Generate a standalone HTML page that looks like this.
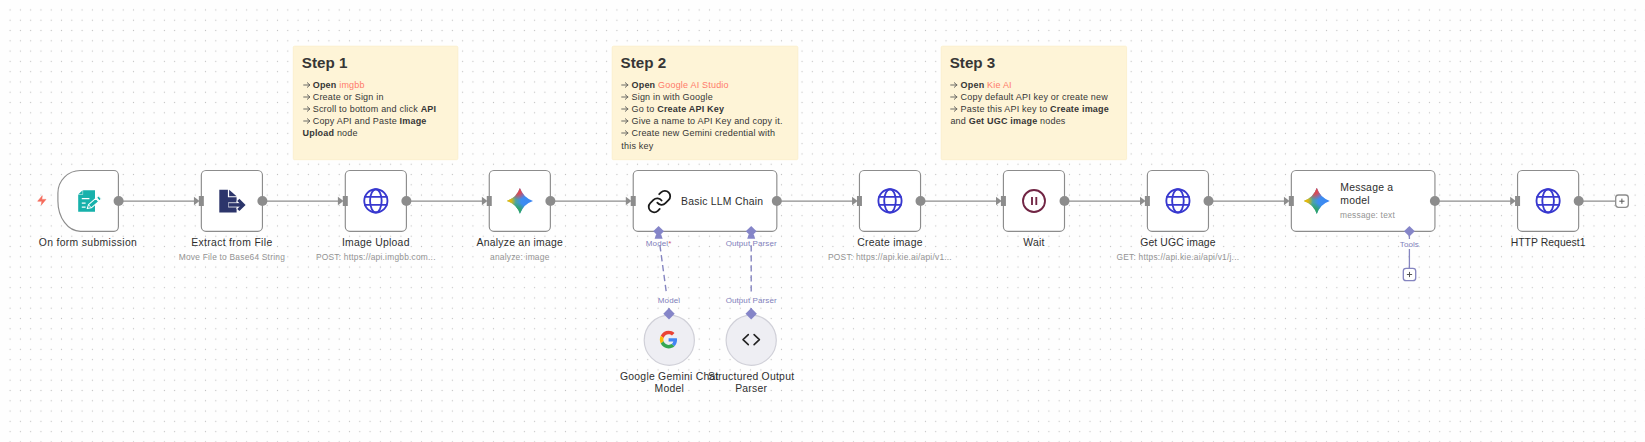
<!DOCTYPE html>
<html><head><meta charset="utf-8">
<style>
html,body{margin:0;padding:0;}
body{width:1645px;height:442px;overflow:hidden;background:#fefefe;position:relative;font-family:"Liberation Sans",sans-serif;}
svg.bg{position:absolute;left:0;top:0;}
.t{position:absolute;white-space:nowrap;}
.lbl{position:absolute;width:200px;text-align:center;font-size:10.4px;line-height:13px;letter-spacing:0.25px;color:#2e2e2e;white-space:nowrap;}
.sub{position:absolute;width:200px;text-align:center;font-size:8.4px;line-height:10px;letter-spacing:0.22px;color:#939393;white-space:nowrap;}
.stk{position:absolute;color:#363636;}
.stk h{display:block;position:absolute;font-weight:bold;font-size:15.2px;line-height:18px;white-space:nowrap;}
.stk .b{position:absolute;font-size:9px;line-height:12px;letter-spacing:0.2px;white-space:nowrap;}
.stk b{font-weight:bold;}
.ar{vertical-align:-0.3px;}
.stk .r{color:#ff7a6a;}
.pl{position:absolute;font-size:8px;line-height:10px;letter-spacing:0.1px;color:#7f7fbb;white-space:nowrap;text-align:center;width:100px;}
</style></head>
<body>
<svg class="bg" width="1645" height="442" viewBox="0 0 1645 442">
<defs>
<pattern id="dots" patternUnits="userSpaceOnUse" x="4.96" y="4.81" width="10.285" height="10.285">
<circle cx="5.14" cy="5.14" r="0.62" fill="#c2c2c2"/>
</pattern>
</defs>
<rect x="2" y="2" width="1643" height="440" fill="url(#dots)"/>

<!-- sticky notes -->
<rect x="293.3" y="46.2" width="164.5" height="113.5" rx="1.2" fill="#fef4d7" stroke="#faedc8" stroke-width="0.8"/>
<rect x="612.2" y="46.2" width="185.6" height="113.5" rx="1.2" fill="#fef4d7" stroke="#faedc8" stroke-width="0.8"/>
<rect x="941.2" y="46.2" width="185.4" height="113.5" rx="1.2" fill="#fef4d7" stroke="#faedc8" stroke-width="0.8"/>

<!-- main edges -->
<g stroke="#8c8c8c" stroke-width="1.35" fill="none">
<line x1="118.5" y1="201.1" x2="196" y2="201.1"/>
<line x1="262.4" y1="201.1" x2="340" y2="201.1"/>
<line x1="406.4" y1="201.1" x2="484" y2="201.1"/>
<line x1="550.4" y1="201.1" x2="628" y2="201.1"/>
<line x1="776.8" y1="201.1" x2="854.5" y2="201.1"/>
<line x1="920.5" y1="201.1" x2="998.5" y2="201.1"/>
<line x1="1064.5" y1="201.1" x2="1142.5" y2="201.1"/>
<line x1="1208.5" y1="201.1" x2="1286.5" y2="201.1"/>
<line x1="1434.9" y1="201.1" x2="1512.5" y2="201.1"/>
<line x1="1578.7" y1="201.1" x2="1615.5" y2="201.1"/>
</g>
<!-- config edges -->
<g stroke="#8585c0" stroke-width="1.4" fill="none" stroke-dasharray="6.3 3.7">
<line x1="659.9" y1="245.2" x2="666.4" y2="293"/>
<line x1="751.2" y1="245.2" x2="751.2" y2="292"/>
</g>
<line x1="1409.4" y1="249" x2="1409.4" y2="268" stroke="#8585c0" stroke-width="1.3"/><line x1="1409.4" y1="235" x2="1409.4" y2="239" stroke="#8585c0" stroke-width="1.3"/>

<!-- nodes -->
<g fill="#ffffff" stroke="#8c8c8c" stroke-width="1.15">
<path d="M80.4,170.5 H113.9 A4.5,4.5 0 0 1 118.4,175 V226.8 A4.5,4.5 0 0 1 113.9,231.3 H80.4 A22.5,30.4 0 0 1 57.9,201 V193 A22.5,22.5 0 0 1 80.4,170.5 Z" />
<rect x="201.34" y="170.5" width="61.1" height="60.8" rx="4.6"/>
<rect x="345.30" y="170.5" width="61.1" height="60.8" rx="4.6"/>
<rect x="489.27" y="170.5" width="61.1" height="60.8" rx="4.6"/>
<rect x="633.23" y="170.5" width="143.6" height="60.8" rx="4.6"/>
<rect x="859.45" y="170.5" width="61.1" height="60.8" rx="4.6"/>
<rect x="1003.41" y="170.5" width="61.1" height="60.8" rx="4.6"/>
<rect x="1147.38" y="170.5" width="61.1" height="60.8" rx="4.6"/>
<rect x="1291.34" y="170.5" width="143.6" height="60.8" rx="4.6"/>
<rect x="1517.56" y="170.5" width="61.1" height="60.8" rx="4.6"/>
</g>
<g fill="#eeeef3" stroke="#d0d0d8" stroke-width="1.2">
<circle cx="669.3" cy="340.2" r="25.1"/>
<circle cx="751.2" cy="340.2" r="25.1"/>
</g>

<!-- output handles -->
<g fill="#8c8c8c">
<circle cx="118.6" cy="201" r="5"/>
<circle cx="262.4" cy="201" r="5"/>
<circle cx="406.4" cy="201" r="5"/>
<circle cx="550.4" cy="201" r="5"/>
<circle cx="776.8" cy="201" r="5"/>
<circle cx="920.5" cy="201" r="5"/>
<circle cx="1064.5" cy="201" r="5"/>
<circle cx="1208.5" cy="201" r="5"/>
<circle cx="1434.9" cy="201" r="5"/>
<circle cx="1578.7" cy="201" r="5"/>
</g>
<!-- input handles -->
<g fill="#8c8c8c" id="inh">
<g transform="translate(201.34,0)"><rect x="-2.5" y="196" width="5" height="10"/><path d="M-7.4,196.8 L-1.8,201 L-7.4,205.2 Z"/></g>
<g transform="translate(345.30,0)"><rect x="-2.5" y="196" width="5" height="10"/><path d="M-7.4,196.8 L-1.8,201 L-7.4,205.2 Z"/></g>
<g transform="translate(489.27,0)"><rect x="-2.5" y="196" width="5" height="10"/><path d="M-7.4,196.8 L-1.8,201 L-7.4,205.2 Z"/></g>
<g transform="translate(633.23,0)"><rect x="-2.5" y="196" width="5" height="10"/><path d="M-7.4,196.8 L-1.8,201 L-7.4,205.2 Z"/></g>
<g transform="translate(859.45,0)"><rect x="-2.5" y="196" width="5" height="10"/><path d="M-7.4,196.8 L-1.8,201 L-7.4,205.2 Z"/></g>
<g transform="translate(1003.41,0)"><rect x="-2.5" y="196" width="5" height="10"/><path d="M-7.4,196.8 L-1.8,201 L-7.4,205.2 Z"/></g>
<g transform="translate(1147.38,0)"><rect x="-2.5" y="196" width="5" height="10"/><path d="M-7.4,196.8 L-1.8,201 L-7.4,205.2 Z"/></g>
<g transform="translate(1291.34,0)"><rect x="-2.5" y="196" width="5" height="10"/><path d="M-7.4,196.8 L-1.8,201 L-7.4,205.2 Z"/></g>
<g transform="translate(1517.56,0)"><rect x="-2.5" y="196" width="5" height="10"/><path d="M-7.4,196.8 L-1.8,201 L-7.4,205.2 Z"/></g>
</g>
<!-- config handles (diamonds) -->
<g fill="#8585c8">
<g transform="translate(658.6,231.3)"><path d="M0,-5.3 L5.4,0 L0,5.3 L-5.4,0 Z"/><path d="M-2.5,3 H2.5 L4,7.5 H-4 Z"/></g>
<g transform="translate(751.2,231.3)"><path d="M0,-5.3 L5.4,0 L0,5.3 L-5.4,0 Z"/><path d="M-2.5,3 H2.5 L4,7.5 H-4 Z"/></g>
<g transform="translate(1409.4,231.3)"><path d="M0,-5.3 L5.4,0 L0,5.3 L-5.4,0 Z"/></g>
<path d="M669,308 V313.5" stroke="#8585c8" stroke-width="1.3"/>
<path d="M751.2,308 V313.5" stroke="#8585c8" stroke-width="1.3"/>
<g transform="translate(669,313.8)"><path d="M0,-5.7 L5.7,0 L0,5.7 L-5.7,0 Z"/></g>
<g transform="translate(751.2,313.8)"><path d="M0,-5.7 L5.7,0 L0,5.7 L-5.7,0 Z"/></g>
</g>
<!-- plus boxes -->
<rect x="1615.7" y="195" width="12.6" height="12.3" rx="2.8" fill="#fff" stroke="#8c8c8c" stroke-width="1.3"/>
<path d="M1619.3,201.2 H1624.5 M1621.9,198.6 V203.8" stroke="#555" stroke-width="1"/>
<rect x="1403.3" y="268.3" width="12.4" height="12.4" rx="2.8" fill="#fff" stroke="#8585c0" stroke-width="1.3"/>
<path d="M1406.9,274.5 H1412.1 M1409.5,271.9 V277.1" stroke="#555" stroke-width="1"/>

<!-- ICONS -->
<!-- bolt -->
<path transform="translate(36.3,194.8) scale(0.46)" d="M13,2 L3,14 H12 L11,22 L21,10 H12 Z" fill="#f56b5b" stroke="#f56b5b" stroke-width="1.2" stroke-linejoin="round"/>
<!-- form icon -->
<g transform="translate(72,185)">
<path d="M11.1,5.2 H23 V26.8 H6.2 V9.4 H11.1 Z" fill="#17b1ab"/>
<path d="M6.6,8.9 L10.6,5.2 V8.9 Z" fill="#17b1ab"/>
<path d="M9.8,13.7 H17.4 M9.8,18 H13.6 M9.8,22 H13.6" stroke="#fff" stroke-width="1.25"/>
<g transform="translate(15.2,23.6) rotate(-41)">
<path d="M0,0 L3.6,-2.1 H13.2 V2.1 H3.6 Z" fill="#17b1ab" stroke="#fff" stroke-width="1.05" stroke-linejoin="round"/>
<path d="M14.2,-2.1 H17 V2.1 H14.2 Z" fill="#17b1ab" stroke="#fff" stroke-width="1.05" stroke-linejoin="round"/>
<path d="M3.6,-2.1 V2.1" stroke="#fff" stroke-width="0.8"/>
</g>
</g>
<!-- extract from file icon -->
<g transform="translate(215,185)" fill="#2c356b">
<path d="M4.3,4.7 H12.9 V12.3 H21.6 V27.5 H4.3 Z"/>
<path d="M14.1,4.7 L21.6,11.3 H14.1 Z"/>
<path d="M13.2,19.9 H26.6" stroke="#fff" stroke-width="5.0"/>
<path d="M23.0,14.5 L28.4,19.9 L23.0,25.3" stroke="#fff" stroke-width="4.8" fill="none"/>
<path d="M13.6,19.9 H27.2" stroke="#2c356b" stroke-width="3.5"/>
<path d="M23.3,14.8 L28.4,19.9 L23.3,25" stroke="#2c356b" stroke-width="3.1" fill="none"/>
</g>
<!-- globes -->
<g id="globe" fill="none" stroke="#3838cf" stroke-width="1.85">
<g transform="translate(375.85,200.85)"><circle r="11.6"/><ellipse rx="5.8" ry="11.6"/><path d="M-11.6,-4 H11.6 M-11.6,4 H11.6"/></g>
<g transform="translate(890.0,200.85)"><circle r="11.6"/><ellipse rx="5.8" ry="11.6"/><path d="M-11.6,-4 H11.6 M-11.6,4 H11.6"/></g>
<g transform="translate(1177.93,200.85)"><circle r="11.6"/><ellipse rx="5.8" ry="11.6"/><path d="M-11.6,-4 H11.6 M-11.6,4 H11.6"/></g>
<g transform="translate(1548.11,200.85)"><circle r="11.6"/><ellipse rx="5.8" ry="11.6"/><path d="M-11.6,-4 H11.6 M-11.6,4 H11.6"/></g>
</g>
<!-- link icon -->
<g transform="translate(646.5,188.6) scale(1.08)" fill="none" stroke="#1a1a1a" stroke-width="1.65" stroke-linecap="round" stroke-linejoin="round">
<path d="M10 13a5 5 0 0 0 7.54.54l3-3a5 5 0 0 0-7.07-7.07l-1.72 1.71"/>
<path d="M14 11a5 5 0 0 0-7.54-.54l-3 3a5 5 0 0 0 7.07 7.07l1.71-1.71"/>
</g>
<!-- wait icon -->
<g fill="none" stroke="#712544" stroke-width="1.85">
<circle cx="1034" cy="201" r="11"/>
<path d="M1032,197 V205 M1036.3,197 V205"/>
</g>
<!-- google G -->
<g transform="translate(659.8,330.8) scale(0.3667)">
<path fill="#EA4335" d="M24 9.5c3.54 0 6.71 1.22 9.21 3.6l6.85-6.85C35.9 2.38 30.47 0 24 0 14.62 0 6.51 5.38 2.56 13.22l7.98 6.19C12.43 13.72 17.74 9.5 24 9.5z"/>
<path fill="#4285F4" d="M46.98 24.55c0-1.57-.15-3.09-.38-4.55H24v9.02h12.94c-.58 2.960-2.26 5.48-4.78 7.18l7.730 6c4.51-4.18 7.09-10.36 7.09-17.65z"/>
<path fill="#FBBC05" d="M10.53 28.59c-.48-1.45-.76-2.99-.76-4.59s.27-3.14.76-4.59l-7.98-6.19C.92 16.46 0 20.12 0 24c0 3.88.92 7.54 2.56 10.78l7.97-6.19z"/>
<path fill="#34A853" d="M24 48c6.48 0 11.930-2.13 15.89-5.81l-7.73-6c-2.15 1.45-4.92 2.3-8.16 2.3-6.26 0-11.57-4.22-13.47-9.91l-7.98 6.19C6.51 42.62 14.62 48 24 48z"/>
</g>
<!-- code icon -->
<path d="M748.3,334.6 L743,339.6 L748.3,344.6 M754.1,334.6 L759.4,339.6 L754.1,344.6" fill="none" stroke="#222" stroke-width="1.6" stroke-linejoin="round" stroke-linecap="round"/>
</svg>

<!-- gemini stars -->
<div style="position:absolute;left:506.80px;top:188.00px;width:26.2px;height:25.8px;clip-path:path('M13.10,25.80 A20.96,20.96 0 0 0 0,12.90 A20.96,20.96 0 0 0 13.10,0 A20.96,20.96 0 0 0 26.20,12.90 A20.96,20.96 0 0 0 13.10,25.80 Z');background:radial-gradient(ellipse 38% 42% at 42% 4%, rgba(236,64,70,1) 0%, rgba(236,64,70,0.85) 45%, rgba(236,64,70,0) 100%), radial-gradient(ellipse 34% 30% at 0% 50%, rgba(246,184,0,1) 0%, rgba(246,184,0,0.85) 45%, rgba(246,184,0,0) 100%), radial-gradient(ellipse 40% 42% at 40% 98%, rgba(44,166,90,1) 0%, rgba(44,166,90,0.85) 45%, rgba(44,166,90,0) 100%), linear-gradient(90deg, #7ab84a 0%, #4aa3a8 35%, #3d8ef0 55%, #3c86f4 100%);"></div>
<div style="position:absolute;left:1303.85px;top:187.80px;width:25.9px;height:26.2px;clip-path:path('M12.95,26.20 A20.72,20.72 0 0 0 0,13.10 A20.72,20.72 0 0 0 12.95,0 A20.72,20.72 0 0 0 25.90,13.10 A20.72,20.72 0 0 0 12.95,26.20 Z');background:radial-gradient(ellipse 38% 42% at 42% 4%, rgba(236,64,70,1) 0%, rgba(236,64,70,0.85) 45%, rgba(236,64,70,0) 100%), radial-gradient(ellipse 34% 30% at 0% 50%, rgba(246,184,0,1) 0%, rgba(246,184,0,0.85) 45%, rgba(246,184,0,0) 100%), radial-gradient(ellipse 40% 42% at 40% 98%, rgba(44,166,90,1) 0%, rgba(44,166,90,0.85) 45%, rgba(44,166,90,0) 100%), linear-gradient(90deg, #7ab84a 0%, #4aa3a8 35%, #3d8ef0 55%, #3c86f4 100%);"></div>
<!-- sticky text -->
<div class="stk">
<h style="left:301.8px;top:53.7px;">Step 1</h>
<div class="b" style="left:302.5px;top:78.88px;"><svg class="ar" width="7.5" height="6" viewBox="0 0 7.5 6"><path d="M0.7,3 H6.9 M4.3,0.7 L6.9,3 L4.3,5.3" fill="none" stroke="#505050" stroke-width="0.85" stroke-linejoin="round" stroke-linecap="round"/></svg> <b>Open</b> <span class="r">imgbb</span></div>
<div class="b" style="left:302.5px;top:90.85px;"><svg class="ar" width="7.5" height="6" viewBox="0 0 7.5 6"><path d="M0.7,3 H6.9 M4.3,0.7 L6.9,3 L4.3,5.3" fill="none" stroke="#505050" stroke-width="0.85" stroke-linejoin="round" stroke-linecap="round"/></svg> Create or Sign in</div>
<div class="b" style="left:302.5px;top:102.82px;"><svg class="ar" width="7.5" height="6" viewBox="0 0 7.5 6"><path d="M0.7,3 H6.9 M4.3,0.7 L6.9,3 L4.3,5.3" fill="none" stroke="#505050" stroke-width="0.85" stroke-linejoin="round" stroke-linecap="round"/></svg> Scroll to bottom and click <b>API</b></div>
<div class="b" style="left:302.5px;top:114.79px;"><svg class="ar" width="7.5" height="6" viewBox="0 0 7.5 6"><path d="M0.7,3 H6.9 M4.3,0.7 L6.9,3 L4.3,5.3" fill="none" stroke="#505050" stroke-width="0.85" stroke-linejoin="round" stroke-linecap="round"/></svg> Copy API and Paste <b>Image</b></div>
<div class="b" style="left:302.5px;top:126.76px;"><b>Upload</b> node</div>
<h style="left:620.6px;top:53.7px;">Step 2</h>
<div class="b" style="left:621.3px;top:78.98px;"><svg class="ar" width="7.5" height="6" viewBox="0 0 7.5 6"><path d="M0.7,3 H6.9 M4.3,0.7 L6.9,3 L4.3,5.3" fill="none" stroke="#505050" stroke-width="0.85" stroke-linejoin="round" stroke-linecap="round"/></svg> <b>Open</b> <span class="r">Google AI Studio</span></div>
<div class="b" style="left:621.3px;top:90.95px;"><svg class="ar" width="7.5" height="6" viewBox="0 0 7.5 6"><path d="M0.7,3 H6.9 M4.3,0.7 L6.9,3 L4.3,5.3" fill="none" stroke="#505050" stroke-width="0.85" stroke-linejoin="round" stroke-linecap="round"/></svg> Sign in with Google</div>
<div class="b" style="left:621.3px;top:102.92px;"><svg class="ar" width="7.5" height="6" viewBox="0 0 7.5 6"><path d="M0.7,3 H6.9 M4.3,0.7 L6.9,3 L4.3,5.3" fill="none" stroke="#505050" stroke-width="0.85" stroke-linejoin="round" stroke-linecap="round"/></svg> Go to <b>Create API Key</b></div>
<div class="b" style="left:621.3px;top:114.89px;"><svg class="ar" width="7.5" height="6" viewBox="0 0 7.5 6"><path d="M0.7,3 H6.9 M4.3,0.7 L6.9,3 L4.3,5.3" fill="none" stroke="#505050" stroke-width="0.85" stroke-linejoin="round" stroke-linecap="round"/></svg> Give a name to API Key and copy it.</div>
<div class="b" style="left:621.3px;top:126.86px;"><svg class="ar" width="7.5" height="6" viewBox="0 0 7.5 6"><path d="M0.7,3 H6.9 M4.3,0.7 L6.9,3 L4.3,5.3" fill="none" stroke="#505050" stroke-width="0.85" stroke-linejoin="round" stroke-linecap="round"/></svg> Create new Gemini credential with</div>
<div class="b" style="left:621.3px;top:139.98px;">this key</div>
<h style="left:949.7px;top:53.7px;">Step 3</h>
<div class="b" style="left:950.4px;top:78.98px;"><svg class="ar" width="7.5" height="6" viewBox="0 0 7.5 6"><path d="M0.7,3 H6.9 M4.3,0.7 L6.9,3 L4.3,5.3" fill="none" stroke="#505050" stroke-width="0.85" stroke-linejoin="round" stroke-linecap="round"/></svg> <b>Open</b> <span class="r">Kie AI</span></div>
<div class="b" style="left:950.4px;top:90.95px;"><svg class="ar" width="7.5" height="6" viewBox="0 0 7.5 6"><path d="M0.7,3 H6.9 M4.3,0.7 L6.9,3 L4.3,5.3" fill="none" stroke="#505050" stroke-width="0.85" stroke-linejoin="round" stroke-linecap="round"/></svg> Copy default API key or create new</div>
<div class="b" style="left:950.4px;top:102.92px;"><svg class="ar" width="7.5" height="6" viewBox="0 0 7.5 6"><path d="M0.7,3 H6.9 M4.3,0.7 L6.9,3 L4.3,5.3" fill="none" stroke="#505050" stroke-width="0.85" stroke-linejoin="round" stroke-linecap="round"/></svg> Paste this API key to <b>Create image</b></div>
<div class="b" style="left:950.4px;top:114.89px;">and <b>Get UGC image</b> nodes</div>
</div>

<!-- node labels -->
<div class="lbl" style="left:-12.07px;top:235.9px;letter-spacing:0.33px;">On form submission</div>
<div class="lbl" style="left:131.89px;top:235.9px;letter-spacing:0.33px;">Extract from File</div>
<div class="sub" style="left:131.89px;top:251.8px;">Move File to Base64 String</div>
<div class="lbl" style="left:275.85px;top:235.9px;">Image Upload</div>
<div class="sub" style="left:275.85px;top:251.8px;">POST: https://api.imgbb.com...</div>
<div class="lbl" style="left:419.82px;top:235.9px;">Analyze an image</div>
<div class="sub" style="left:419.82px;top:251.8px;">analyze: image</div>
<div class="lbl" style="left:790px;top:235.9px;">Create image</div>
<div class="sub" style="left:790px;top:251.8px;">POST: https://api.kie.ai/api/v1...</div>
<div class="lbl" style="left:933.96px;top:235.9px;">Wait</div>
<div class="lbl" style="left:1077.93px;top:235.9px;letter-spacing:0.1px;">Get UGC image</div>
<div class="sub" style="left:1077.93px;top:251.8px;">GET: https://api.kie.ai/api/v1/j...</div>
<div class="lbl" style="left:1448.11px;top:235.9px;letter-spacing:0.05px;">HTTP Request1</div>

<div class="t" style="left:681px;top:194.5px;font-size:10.4px;line-height:13px;letter-spacing:0.25px;color:#2e2e2e;">Basic LLM Chain</div>
<div class="t" style="left:1340.3px;top:181px;font-size:10.4px;line-height:13px;letter-spacing:0.25px;color:#2e2e2e;">Message a<br>model</div>
<div class="t" style="left:1340px;top:210px;font-size:8.4px;line-height:10px;letter-spacing:0.22px;color:#939393;">message: text</div>

<div class="lbl" style="left:569.3px;top:371.2px;line-height:12.2px;">Google Gemini Chat<br>Model</div>
<div class="lbl" style="left:651.2px;top:371.2px;line-height:12.2px;">Structured Output<br>Parser</div>

<div class="pl" style="left:608.6px;top:238.5px;">Model<span style="color:#d05a6e">*</span></div>
<div class="pl" style="left:701.2px;top:238.5px;">Output Parser</div>
<div class="pl" style="left:619px;top:295.6px;">Model</div>
<div class="pl" style="left:701.2px;top:295.6px;">Output Parser</div>
<div class="pl" style="left:1359.4px;top:239.5px;">Tools</div>
</body></html>
